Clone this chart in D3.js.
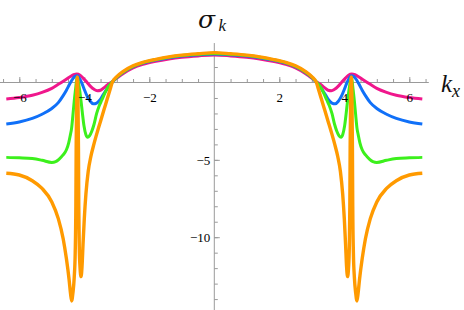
<!DOCTYPE html>
<html>
<head>
<meta charset="utf-8">
<script src="https://cdn.jsdelivr.net/npm/d3@7"></script>
<style>
  body { margin: 0; background: #fff; }
  svg { display: block; }
</style>
</head>
<body>
<div id="plot"></div>
<script>
// sigma_k against k_x, four curves as [kx, sigma]
const magenta = [
  [-6.4,-1.07],[-6.0,-0.97],[-5.6,-0.82],[-5.3,-0.64],[-5.0,-0.38],[-4.8,-0.12],[-4.6,0.15],[-4.45,0.36],
  [-4.33,0.5],[-4.23,0.55],[-4.13,0.47],[-4.03,0.27],[-3.92,0.02],[-3.8,-0.27],[-3.7,-0.44],[-3.6,-0.53],
  [-3.5,-0.5],[-3.4,-0.35],[-3.3,-0.18],[-3.15,0.04],[-3.0,0.28],[-2.8,0.58],[-2.5,0.94],[-2.2,1.17],
  [-1.8,1.37],[-1.4,1.52],[-1.0,1.63],[-0.5,1.72],[0,1.78],
  [0.5,1.72],[1.0,1.63],[1.4,1.52],[1.8,1.37],[2.2,1.17],[2.5,0.94],[2.8,0.58],[3.0,0.28],[3.15,0.04],
  [3.3,-0.18],[3.4,-0.35],[3.5,-0.5],[3.6,-0.53],[3.7,-0.44],[3.8,-0.27],[3.92,0.02],[4.03,0.27],
  [4.13,0.47],[4.23,0.55],[4.33,0.5],[4.45,0.36],[4.6,0.15],[4.8,-0.12],[5.0,-0.38],[5.3,-0.64],
  [5.6,-0.82],[6.0,-0.97],[6.4,-1.07]
];
const blue = [
  [-6.4,-2.68],[-6.0,-2.55],[-5.6,-2.32],[-5.3,-2.05],[-5.0,-1.68],[-4.8,-1.3],[-4.65,-0.85],[-4.55,-0.5],
  [-4.45,-0.1],[-4.35,0.25],[-4.28,0.4],[-4.23,0.44],[-4.18,0.38],[-4.13,0.2],[-4.06,-0.12],[-4.0,-0.45],
  [-3.92,-0.85],[-3.82,-1.2],[-3.72,-1.38],[-3.62,-1.33],[-3.52,-1.13],[-3.42,-0.8],[-3.31,-0.45],
  [-3.15,-0.02],[-3.0,0.33],[-2.8,0.66],[-2.5,1.02],[-2.2,1.25],[-1.8,1.45],[-1.4,1.6],[-1.0,1.71],
  [-0.5,1.79],[0,1.85],
  [0.5,1.79],[1.0,1.71],[1.4,1.6],[1.8,1.45],[2.2,1.25],[2.5,1.02],[2.8,0.66],[3.0,0.33],[3.15,-0.02],
  [3.31,-0.45],[3.42,-0.8],[3.52,-1.13],[3.62,-1.33],[3.72,-1.38],[3.82,-1.2],[3.92,-0.85],[4.0,-0.45],
  [4.06,-0.12],[4.13,0.2],[4.18,0.38],[4.23,0.44],[4.28,0.4],[4.35,0.25],[4.45,-0.1],[4.55,-0.5],
  [4.65,-0.85],[4.8,-1.3],[5.0,-1.68],[5.3,-2.05],[5.6,-2.32],[6.0,-2.55],[6.4,-2.68]
];
const green = [
  [-6.4,-4.84],[-6.0,-4.87],[-5.6,-4.92],[-5.3,-5.03],[-5.0,-5.17],[-4.88,-5.12],[-4.78,-4.97],[-4.66,-4.7],
  [-4.55,-4.35],[-4.48,-3.9],[-4.43,-3.4],[-4.39,-2.95],[-4.35,-2.1],[-4.31,-1.2],[-4.27,-0.45],[-4.24,0.1],
  [-4.22,0.3],[-4.19,0.1],[-4.16,-0.25],[-4.13,-0.7],[-4.1,-1.2],[-4.06,-1.95],[-4.01,-2.8],[-3.95,-3.38],
  [-3.9,-3.54],[-3.84,-3.45],[-3.77,-3.15],[-3.7,-2.7],[-3.62,-2.0],[-3.54,-1.5],[-3.46,-1.13],
  [-3.36,-0.65],[-3.26,-0.27],[-3.15,0.02],[-3.0,0.35],[-2.8,0.68],[-2.5,1.04],[-2.2,1.28],[-1.8,1.48],
  [-1.4,1.63],[-1.0,1.74],[-0.5,1.82],[0,1.88],
  [0.5,1.82],[1.0,1.74],[1.4,1.63],[1.8,1.48],[2.2,1.28],[2.5,1.04],[2.8,0.68],[3.0,0.35],[3.15,0.02],
  [3.26,-0.27],[3.36,-0.65],[3.46,-1.13],[3.54,-1.5],[3.62,-2.0],[3.7,-2.7],[3.77,-3.15],[3.84,-3.45],
  [3.9,-3.54],[3.95,-3.38],[4.01,-2.8],[4.06,-1.95],[4.1,-1.2],[4.13,-0.7],[4.16,-0.25],[4.19,0.1],
  [4.22,0.3],[4.24,0.1],[4.27,-0.45],[4.31,-1.2],[4.35,-2.1],[4.39,-2.95],[4.43,-3.4],[4.48,-3.9],
  [4.55,-4.35],[4.66,-4.7],[4.78,-4.97],[4.88,-5.12],[5.0,-5.17],[5.3,-5.03],[5.6,-4.92],[6.0,-4.87],
  [6.4,-4.84]
];
const orange = [
  [-6.4,-5.87],[-6.0,-5.98],[-5.6,-6.35],[-5.3,-6.85],[-5.0,-7.72],[-4.8,-8.8],[-4.65,-10.1],[-4.55,-11.4],
  [-4.47,-12.7],[-4.42,-13.7],[-4.39,-14.12],[-4.35,-13.6],[-4.31,-12.6],[-4.28,-11.0],[-4.26,-8.0],
  [-4.25,-4.2],[-4.235,-1.0],[-4.215,0.36],[-4.195,-1.0],[-4.18,-4.2],[-4.17,-8.0],[-4.155,-10.6],
  [-4.13,-12.0],[-4.1,-12.55],[-4.07,-11.9],[-4.04,-10.5],[-4.0,-8.8],[-3.95,-7.2],[-3.88,-5.75],
  [-3.8,-4.8],[-3.7,-3.95],[-3.6,-3.2],[-3.5,-2.5],[-3.4,-1.8],[-3.3,-1.1],[-3.2,-0.4],[-3.14,0.0],
  [-3.0,0.38],[-2.8,0.72],[-2.5,1.08],[-2.2,1.3],[-1.8,1.5],[-1.4,1.66],[-1.0,1.77],[-0.5,1.86],[0,1.93],
  [0.5,1.86],[1.0,1.77],[1.4,1.66],[1.8,1.5],[2.2,1.3],[2.5,1.08],[2.8,0.72],[3.0,0.38],[3.14,0.0],
  [3.2,-0.4],[3.3,-1.1],[3.4,-1.8],[3.5,-2.5],[3.6,-3.2],[3.7,-3.95],[3.8,-4.8],[3.88,-5.75],
  [3.95,-7.2],[4.0,-8.8],[4.04,-10.5],[4.07,-11.9],[4.1,-12.55],[4.13,-12.0],[4.155,-10.6],[4.17,-8.0],
  [4.18,-4.2],[4.195,-1.0],[4.215,0.36],[4.235,-1.0],[4.25,-4.2],[4.26,-8.0],[4.28,-11.0],[4.31,-12.6],
  [4.35,-13.6],[4.39,-14.12],[4.42,-13.7],[4.47,-12.7],[4.55,-11.4],[4.65,-10.1],[4.8,-8.8],[5.0,-7.72],
  [5.3,-6.85],[5.6,-6.35],[6.0,-5.98],[6.4,-5.87]
];

const xLabelTicks = [-6, -4, -2, 2, 4, 6];
const yLabelTicks = [-10, -5];
const xTickStep = 0.5;
const yTickStep = 1;

var width = 464, height = 310;

var svg = d3.select("#plot")
  .append("svg")
  .attr("width", width)
  .attr("height", height);

var x = d3.scaleLinear().domain([-6, 6]).range([19.3, 409.3]);
var y = d3.scaleLinear().domain([0, -10]).range([82.5, 237.2]);

var axisColor = "#9a9a9a";
var labelFont = "Liberation Serif, Times New Roman, serif";

// axis lines (drawn under the curves)
svg.append("line")
  .attr("x1", x(-6.6)).attr("x2", x(6.6))
  .attr("y1", y(0)).attr("y2", y(0))
  .attr("stroke", axisColor).attr("stroke-width", 1);
svg.append("line")
  .attr("x1", x(0)).attr("x2", x(0))
  .attr("y1", y(2.55)).attr("y2", height)
  .attr("stroke", axisColor).attr("stroke-width", 1);

// x ticks point up, y ticks point right
var xMinor = d3.range(-6.5, 6.51, xTickStep).filter(d => d != 0);
var yMinor = d3.range(-14, 2.01, yTickStep).filter(d => d != 0);

function tickGroup(axis, transform) {
  svg.append("g")
    .attr("transform", transform)
    .style("color", axisColor)
    .call(axis)
    .call(g => g.select(".domain").remove());
}
tickGroup(d3.axisBottom(x).tickValues(xMinor).tickSize(-3.5).tickFormat(""), "translate(0," + y(0) + ")");
tickGroup(d3.axisBottom(x).tickValues(xLabelTicks).tickSize(-5.5).tickFormat(""), "translate(0," + y(0) + ")");
tickGroup(d3.axisLeft(y).tickValues(yMinor).tickSize(-3.5).tickFormat(""), "translate(" + x(0) + ",0)");
tickGroup(d3.axisLeft(y).tickValues(yLabelTicks).tickSize(-5.5).tickFormat(""), "translate(" + x(0) + ",0)");

// curves
var line = d3.line()
  .x(d => x(d[0]))
  .y(d => y(d[1]))
  .curve(d3.curveMonotoneX);

var series = [
  { pts: magenta, color: "#f0178c", w: 3 },
  { pts: blue, color: "#1070f8", w: 3 },
  { pts: green, color: "#3cf01c", w: 3 },
  { pts: orange, color: "#ff9a00", w: 3.4 }
];
svg.append("g")
  .selectAll("path")
  .data(series)
  .enter()
  .append("path")
  .attr("d", d => line(d.pts))
  .attr("fill", "none")
  .attr("stroke", d => d.color)
  .attr("stroke-width", d => d.w)
  .attr("stroke-linejoin", "round")
  .attr("stroke-linecap", "butt");

// tick labels on top
var xl = svg.append("g")
  .attr("transform", "translate(0," + y(0) + ")")
  .call(d3.axisBottom(x).tickValues(xLabelTicks).tickSize(0).tickPadding(10));
var yl = svg.append("g")
  .attr("transform", "translate(" + x(0) + ",0)")
  .call(d3.axisLeft(y).tickValues(yLabelTicks).tickSize(0).tickPadding(4));
[xl, yl].forEach(g => {
  g.select(".domain").remove();
  g.selectAll("text")
    .attr("fill", "#000")
    .style("font-family", labelFont)
    .style("font-size", "13px");
});

// axis titles
svg.append("text")
  .attr("x", 198).attr("y", 28)
  .style("font-family", "DejaVu Serif, serif")
  .style("font-style", "italic")
  .style("font-size", "25px")
  .attr("fill", "#111")
  .text("σ");
svg.append("text")
  .attr("x", 218.5).attr("y", 31)
  .style("font-family", labelFont)
  .style("font-style", "italic")
  .style("font-size", "17px")
  .attr("fill", "#111")
  .text("k");

var t2 = svg.append("text")
  .attr("x", 441).attr("y", 91.5)
  .style("font-family", labelFont)
  .style("font-style", "italic")
  .attr("fill", "#111");
t2.append("tspan").style("font-size", "25px").text("k");
t2.append("tspan").style("font-size", "18px").attr("dy", 5).text("x");
</script>
</body>
</html>
